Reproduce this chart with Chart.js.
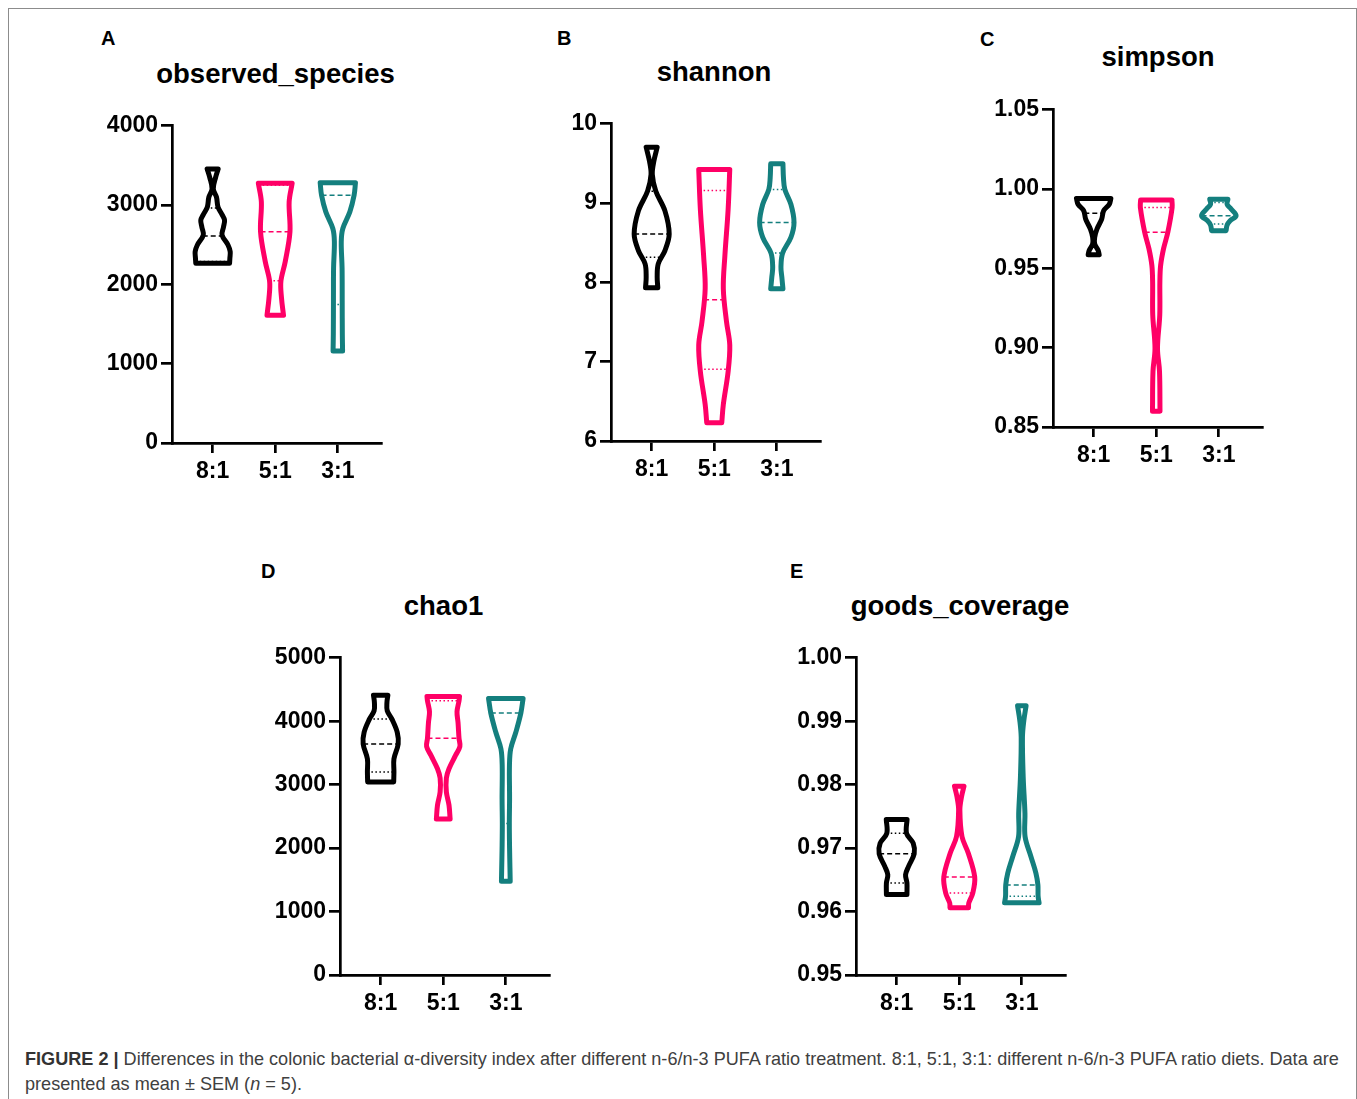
<!doctype html>
<html lang="en">
<head>
  <meta charset="utf-8">
  <title>Figure 2: colonic bacterial α-diversity</title>
  <style>
    * {
      margin: 0;
      padding: 0;
    }
    body {
      width: 1357px;
      height: 1099px;
      background: white;
      position: relative;
      overflow: hidden;
      font-family: 'Liberation Sans', Arial, sans-serif;
      color: black;
    }
    .frame {
      position: absolute;
      left: 8px;
      top: 8px;
      width: 1347px;
      height: 1120px;
      border: 1px solid #8c8c8c;
    }
    .panel { position: absolute; }
    .letter {
      position: absolute;
      font-weight: bold;
      font-size: 20px;
      line-height: 20px;
    }
    .title {
      position: absolute;
      font-weight: bold;
      font-size: 27.5px;
      line-height: 27.5px;
      white-space: nowrap;
      transform: translateX(-50%);
    }
    .caption {
      position: absolute;
      left: 25px;
      top: 1047px;
      font-size: 18.1px;
      line-height: 25px;
      color: #404040;
      white-space: nowrap;
    }
    .caption b { color: #333; }
  </style>
</head>
<body>
<div class="frame"></div>

<div class="letter" style="left:101px; top:28px;">A</div>
<div class="letter" style="left:557px; top:28px;">B</div>
<div class="letter" style="left:980px; top:29px;">C</div>
<div class="letter" style="left:261px; top:561px;">D</div>
<div class="letter" style="left:790px; top:561px;">E</div>

<div class="title" style="left:275.5px; top:60px;">observed_species</div>
<div class="title" style="left:714px; top:58px;">shannon</div>
<div class="title" style="left:1158px; top:43px;">simpson</div>
<div class="title" style="left:443.5px; top:592px;">chao1</div>
<div class="title" style="left:960px; top:592px;">goods_coverage</div>

<canvas id="chartA" class="panel" width="309" height="384"></canvas>
<canvas id="chartB" class="panel" width="309" height="384"></canvas>
<canvas id="chartC" class="panel" width="309" height="384"></canvas>
<canvas id="chartD" class="panel" width="309" height="384"></canvas>
<canvas id="chartE" class="panel" width="309" height="384"></canvas>

<div class="caption">
  <b>FIGURE 2 |</b> Differences in the colonic bacterial α-diversity index after different n-6/n-3 PUFA ratio treatment. 8:1, 5:1, 3:1: different n-6/n-3 PUFA ratio diets. Data are<br>
  presented as mean ± SEM (<i>n</i> = 5).
</div>

<script src="https://cdn.jsdelivr.net/npm/chart.js"></script>
<script>
  // groups on the x axis
  const groups = ['8:1', '5:1', '3:1'];
  const colors = ['#000000', '#ff0066', '#147f7e'];

  // violin outlines: y values (top -> bottom) and half widths (x-axis units)
  // A: observed_species
  const obsTicks = [0, 1000, 2000, 3000, 4000];
  const obsLabels = ['0', '1000', '2000', '3000', '4000'];
  const obsY = [
    [3456, 3352, 3206, 3100, 2977, 2880, 2810, 2720, 2622, 2497, 2413, 2330, 2267],
    [3275, 3040, 2664, 2288, 2037, 1828, 1610],
    [3281, 3123, 2914, 2705, 2539, 2204, 1787, 1370, 1161]
  ];
  const obsW = [
    [0.088, 0.048, 0.010, 0.061, 0.085, 0.150, 0.190, 0.172, 0.150, 0.245, 0.280, 0.275, 0.270],
    [0.270, 0.222, 0.235, 0.160, 0.090, 0.100, 0.132],
    [0.282, 0.260, 0.192, 0.080, 0.055, 0.068, 0.070, 0.072, 0.076]
  ];
  const obsQ1 = [2288, 2046, 1746];
  const obsMed = [2610, 2664, 3123];
  const obsQ3 = [2964, 3250, 3265];

  // B: shannon
  const shaTicks = [6, 7, 8, 9, 10];
  const shaLabels = ['6', '7', '8', '9', '10'];
  const shaY = [
    [9.704, 9.529, 9.361, 9.153, 8.902, 8.609, 8.401, 8.234, 8.067, 7.933],
    [9.424, 8.922, 8.338, 7.92, 7.503, 7.211, 6.877, 6.46, 6.229],
    [9.495, 9.32, 9.173, 8.985, 8.756, 8.568, 8.368, 8.192, 8.067, 7.92]
  ];
  const shaW = [
    [0.088, 0.035, 0.010, 0.065, 0.212, 0.280, 0.212, 0.105, 0.088, 0.098],
    [0.248, 0.222, 0.170, 0.145, 0.196, 0.248, 0.222, 0.145, 0.120],
    [0.098, 0.106, 0.128, 0.225, 0.275, 0.225, 0.092, 0.066, 0.080, 0.098]
  ];
  const shaQ1 = [8.317, 6.906, 8.37];
  const shaMed = [8.61, 7.78, 8.756];
  const shaQ3 = [9.15, 9.16, 9.173];

  // C: simpson
  const simTicks = [0.85, 0.90, 0.95, 1.00, 1.05];
  const simLabels = ['0.85', '0.90', '0.95', '1.00', '1.05'];
  const simY = [
    [0.9941, 0.9905, 0.9864, 0.9811, 0.9748, 0.9696, 0.9654, 0.9613, 0.9586],
    [0.9932, 0.9884, 0.9728, 0.9623, 0.9519, 0.9414, 0.9206, 0.8997, 0.8851, 0.8600],
    [0.9936, 0.9905, 0.9874, 0.9832, 0.9801, 0.9773, 0.9738]
  ];
  const simW = [
    [0.275, 0.250, 0.160, 0.128, 0.052, 0.016, 0.016, 0.072, 0.088],
    [0.250, 0.254, 0.185, 0.116, 0.070, 0.058, 0.056, 0.020, 0.052, 0.060],
    [0.145, 0.132, 0.196, 0.276, 0.180, 0.132, 0.116]
  ];
  const simQ1 = [0.9713, 0.9039, 0.978];
  const simMed = [0.9847, 0.9728, 0.9832];
  const simQ3 = [0.993, 0.9884, 0.9916];

  // D: chao1
  const chaTicks = [0, 1000, 2000, 3000, 4000, 5000];
  const chaLabels = ['0', '1000', '2000', '3000', '4000', '5000'];
  const chaY = [
    [4410, 4295, 4165, 4034, 3826, 3642, 3407, 3199, 3043],
    [4389, 4322, 4150, 3982, 3732, 3600, 3461, 3251, 3105, 2886, 2678, 2458],
    [4358, 4128, 3826, 3564, 3304, 2781, 2390, 1998, 1685, 1477]
  ];
  const chaW = [
    [0.115, 0.100, 0.105, 0.180, 0.265, 0.280, 0.212, 0.212, 0.208],
    [0.260, 0.252, 0.220, 0.236, 0.252, 0.266, 0.196, 0.092, 0.050, 0.050, 0.092, 0.110],
    [0.276, 0.240, 0.160, 0.078, 0.058, 0.060, 0.056, 0.060, 0.066, 0.070]
  ];
  const chaQ1 = [3199, 3105, 2390];
  const chaMed = [3642, 3732, 4128];
  const chaQ3 = [4034, 4322, 4340];

  // E: goods_coverage
  const gooTicks = [0.95, 0.96, 0.97, 0.98, 0.99, 1.00];
  const gooLabels = ['0.95', '0.96', '0.97', '0.98', '0.99', '1.00'];
  const gooY = [
    [0.97452, 0.97233, 0.97076, 0.9691, 0.96712, 0.96582, 0.9645, 0.96268],
    [0.97975, 0.97808, 0.976, 0.97181, 0.9692, 0.96544, 0.96293, 0.96137, 0.96059],
    [0.99244, 0.99009, 0.98747, 0.98121, 0.97546, 0.97181, 0.96868, 0.96607, 0.96419, 0.96242, 0.96137]
  ];
  const gooW = [
    [0.166, 0.158, 0.265, 0.280, 0.190, 0.142, 0.164, 0.164],
    [0.076, 0.036, 0.010, 0.044, 0.145, 0.247, 0.217, 0.153, 0.148],
    [0.068, 0.032, 0.010, 0.022, 0.050, 0.052, 0.145, 0.225, 0.257, 0.260, 0.276]
  ];
  const gooQ1 = [0.9645, 0.96293, 0.96242];
  const gooMed = [0.9691, 0.96544, 0.96419];
  const gooQ3 = [0.97233, 0.9718, 0.9812];

  // where each plot's axes sit on the page (axis corner = left/top of plot area)
  const layout = {
    A: { left: 172, top: 123 },
    B: { left: 611, top: 121 },
    C: { left: 1053, top: 107 },
    D: { left: 340, top: 655 },
    E: { left: 856, top: 655 }
  };
  const Y_AXIS_W = 90, X_AXIS_H = 50, PAD_T = 14, PAD_R = 10;

  Chart.defaults.font.family = "'Liberation Sans', Arial, sans-serif";
  Chart.defaults.font.weight = 'bold';
  Chart.defaults.font.size = 23;
  Chart.defaults.color = 'black';

  // closed violin outline; corner points doubled so top/bottom stay flat
  function outline(c, ys, ws) {
    const n = ys.length;
    const R = ys.map((y, i) => ({ x: c + ws[i], y: y }));
    const L = ys.map((y, i) => ({ x: c - ws[i], y: y }));
    const pts = [R[0], R[0]];
    for (let i = 1; i < n - 1; i++) pts.push(R[i]);
    pts.push(R[n - 1], R[n - 1], L[n - 1], L[n - 1]);
    for (let i = n - 2; i > 0; i--) pts.push(L[i]);
    pts.push(L[0], L[0], R[0], R[0]);
    return pts;
  }

  function widthAt(ys, ws, v) {
    for (let i = 0; i < ys.length - 1; i++) {
      if (v <= ys[i] && v >= ys[i + 1]) {
        const t = (ys[i] - v) / (ys[i] - ys[i + 1]);
        return ws[i] + t * (ws[i + 1] - ws[i]);
      }
    }
    return v > ys[0] ? ws[0] : ws[ws.length - 1];
  }

  function hline(c, ys, ws, v, color, dash) {
    const w = widthAt(ys, ws, v);
    return {
      data: [{ x: c - w, y: v }, { x: c + w, y: v }],
      borderColor: color,
      borderWidth: 1.5,
      borderDash: dash,
      tension: 0
    };
  }

  function drawPanel(key, ticks, labels, ys, ws, q1, med, q3) {
    const box = layout[key];
    const canvas = document.getElementById('chart' + key);
    canvas.style.left = (box.left - Y_AXIS_W) + 'px';
    canvas.style.top = (box.top - PAD_T) + 'px';

    const datasets = [];
    groups.forEach((g, i) => {
      const c = i + 1;
      datasets.push({
        label: g,
        data: outline(c, ys[i], ws[i]),
        borderColor: colors[i],
        borderWidth: 5,
        borderJoinStyle: 'round',
        borderCapStyle: 'round',
        tension: 0.35,
        fill: false
      });
      datasets.push(hline(c, ys[i], ws[i], q3[i], colors[i], [1.5, 2.5]));
      datasets.push(hline(c, ys[i], ws[i], med[i], colors[i], [5, 3]));
      datasets.push(hline(c, ys[i], ws[i], q1[i], colors[i], [1.5, 2.5]));
    });

    const axisGrid = {
      drawOnChartArea: false,
      drawTicks: true,
      color: 'black',
      lineWidth: 2.7
    };

    new Chart(canvas, {
      type: 'line',
      data: { datasets },
      options: {
        responsive: false,
        animation: false,
        events: [],
        layout: { padding: { top: PAD_T, right: PAD_R, left: 0, bottom: 0 } },
        elements: { point: { radius: 0 } },
        plugins: {
          legend: { display: false },
          tooltip: { enabled: false }
        },
        scales: {
          x: {
            type: 'linear',
            min: 0.35,
            max: 3.69,
            afterBuildTicks: s => { s.ticks = groups.map((g, i) => ({ value: i + 1 })); },
            afterFit: s => { s.height = X_AXIS_H; },
            grid: Object.assign({ tickLength: 10 }, axisGrid),
            border: { color: 'black', width: 2.7 },
            ticks: {
              callback: (v, i) => groups[i],
              padding: 5,
              maxRotation: 0,
              autoSkip: false
            }
          },
          y: {
            type: 'linear',
            min: ticks[0],
            max: ticks[ticks.length - 1],
            afterBuildTicks: s => { s.ticks = ticks.map(v => ({ value: v })); },
            afterFit: s => { s.width = Y_AXIS_W; },
            grid: Object.assign({ tickLength: 11 }, axisGrid),
            border: { color: 'black', width: 2.7 },
            ticks: {
              callback: (v, i) => labels[i],
              padding: 3,
              autoSkip: false
            }
          }
        }
      }
    });
  }

  drawPanel('A', obsTicks, obsLabels, obsY, obsW, obsQ1, obsMed, obsQ3);
  drawPanel('B', shaTicks, shaLabels, shaY, shaW, shaQ1, shaMed, shaQ3);
  drawPanel('C', simTicks, simLabels, simY, simW, simQ1, simMed, simQ3);
  drawPanel('D', chaTicks, chaLabels, chaY, chaW, chaQ1, chaMed, chaQ3);
  drawPanel('E', gooTicks, gooLabels, gooY, gooW, gooQ1, gooMed, gooQ3);
</script>
</body>
</html>
